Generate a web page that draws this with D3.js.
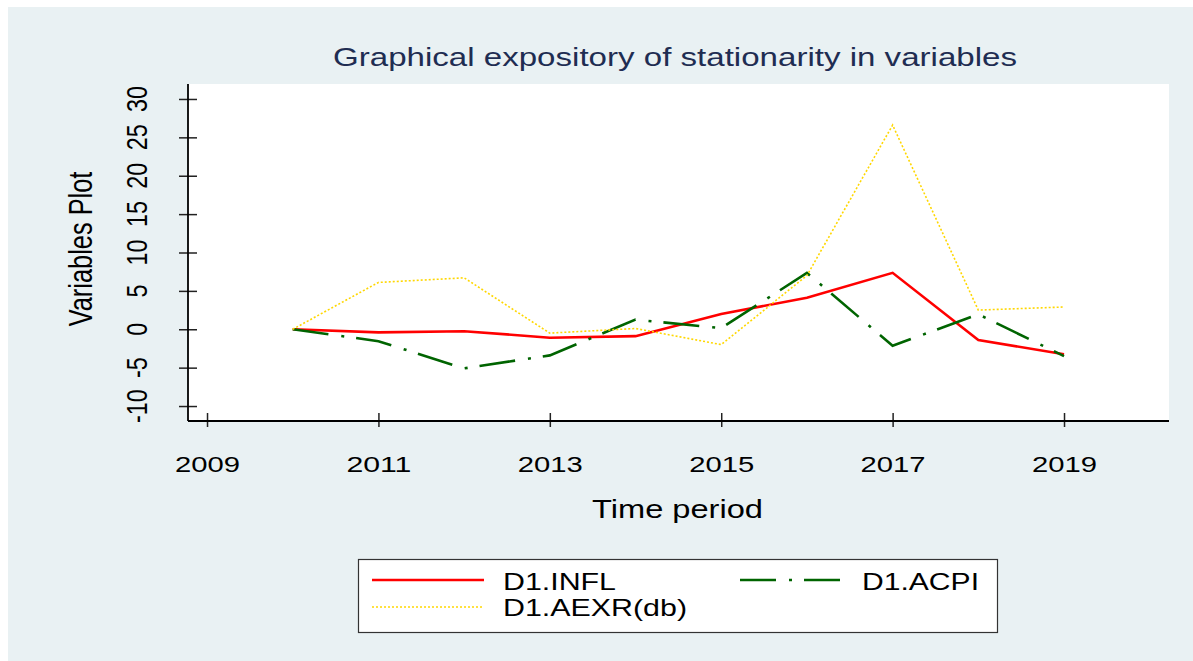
<!DOCTYPE html>
<html>
<head>
<meta charset="utf-8">
<script src="https://cdnjs.cloudflare.com/ajax/libs/d3/7.8.5/d3.min.js"></script>
<style>
  body { margin: 0; background: #fff; }
  text { font-family: "Liberation Sans", Arial, sans-serif; }
</style>
</head>
<body>
<script>
// values
var years = [2010, 2011, 2012, 2013, 2014, 2015, 2016, 2017, 2018, 2019];
var infl = [0, -0.4, -0.25, -1.1, -0.9, 2.0, 4.1, 7.35, -1.4, -3.25];
var acpi = [0, -1.55, -5.1, -3.4, 1.25, 0.15, 7.35, -2.15, 1.95, -3.5];
var aexr = [0, 6.1, 6.7, -0.5, 0.1, -2.0, 7.0, 26.6, 2.5, 2.9];
var xTicks = [2009, 2011, 2013, 2015, 2017, 2019];
var yTicks = [-10, -5, 0, 5, 10, 15, 20, 25, 30];
var seriesNames = ['D1.INFL', 'D1.ACPI', 'D1.AEXR(db)'];

var svg = d3.select('body').append('svg')
    .attr('width', 1193)
    .attr('height', 661);

// Stata style graph region
svg.append('rect').attr('x', 8).attr('y', 7)
    .attr('width', 1185).attr('height', 654)
    .attr('fill', '#e9f1f3');

// note: "top" is taken by window.top, so plot edges get their own names
var plotL = 188, plotR = 1169, plotT = 84, plotB = 421;

svg.append('rect').attr('x', plotL).attr('y', plotT)
    .attr('width', plotR - plotL).attr('height', plotB - plotT)
    .attr('fill', '#fff');

var x = d3.scaleLinear().domain([2008.778, 2020.225]).range([plotL, plotR]);
var y = d3.scaleLinear().domain([-11.95, 31.95]).range([plotB, plotT]);

// title
svg.append('text')
    .attr('x', 333).attr('y', 66)
    .attr('font-size', 26.5)
    .attr('fill', '#1f2d52')
    .attr('textLength', 684).attr('lengthAdjust', 'spacingAndGlyphs')
    .text('Graphical expository of stationarity in variables');

// y axis ticks (crossing the axis line)
var yAxis = svg.append('g')
    .attr('transform', 'translate(197,0)')
    .call(d3.axisLeft(y).tickValues(yTicks).tickSize(18).tickFormat(''));
yAxis.select('.domain').remove();
yAxis.selectAll('line').attr('stroke', '#222').attr('stroke-width', 1.5);

yTicks.forEach(function (t) {
    svg.append('text')
        .attr('transform', 'translate(147,' + y(t) + ') scale(1.3,1) rotate(-90)')
        .attr('text-anchor', 'middle')
        .attr('font-size', 23.4)
        .attr('fill', '#000')
        .text(t);
});

svg.append('text')
    .attr('transform', 'translate(92,249) scale(1.3,1) rotate(-90)')
    .attr('text-anchor', 'middle')
    .attr('font-size', 25.4)
    .text('Variables Plot');

// x axis
var xAxis = svg.append('g')
    .attr('transform', 'translate(0,413)')
    .call(d3.axisBottom(x).tickValues(xTicks).tickSize(14).tickFormat(d3.format('d')));
xAxis.select('.domain').remove();
xAxis.selectAll('line').attr('stroke', '#222').attr('stroke-width', 1.5);
xAxis.selectAll('text')
    .attr('y', 59).attr('dy', 0)
    .attr('font-size', 22)
    .attr('font-family', '"Liberation Sans", Arial, sans-serif')
    .attr('fill', '#000')
    .attr('textLength', 65).attr('lengthAdjust', 'spacingAndGlyphs');

svg.append('text')
    .attr('x', 677.5).attr('y', 518)
    .attr('text-anchor', 'middle')
    .attr('font-size', 25)
    .attr('textLength', 171).attr('lengthAdjust', 'spacingAndGlyphs')
    .text('Time period');

// axis lines
svg.append('line').attr('x1', plotL).attr('x2', plotL).attr('y1', plotT).attr('y2', plotB)
    .attr('stroke', '#000').attr('stroke-width', 1.8);
svg.append('line').attr('x1', plotL).attr('x2', plotR).attr('y1', plotB).attr('y2', plotB)
    .attr('stroke', '#000').attr('stroke-width', 1.8);

// series
var line = d3.line().x(function (d) {
    return x(d[0]);
}).y(function (d) {
    return y(d[1]);
});

var styles = [
    { color: '#ff0000', width: 2.6, dash: null },
    { color: '#006400', width: 2.6, dash: '36,13,3,12' },
    { color: '#ffd700', width: 1.6, dash: '2,2' }
];
var series = [infl, acpi, aexr];

series.forEach(function (vals, i) {
    svg.append('path')
        .attr('d', line(years.map(function (yr, j) { return [yr, vals[j]]; })))
        .attr('fill', 'none')
        .attr('stroke', styles[i].color)
        .attr('stroke-width', styles[i].width)
        .attr('stroke-dasharray', styles[i].dash);
});

// legend
svg.append('rect').attr('x', 358.5).attr('y', 559.5)
    .attr('width', 639).attr('height', 73)
    .attr('fill', '#fff').attr('stroke', '#333').attr('stroke-width', 1.2);

var legendPos = [
    { lx: 372, ly: 580, tx: 503, ty: 590, tw: 113 },
    { lx: 740, ly: 580, tx: 862, ty: 590, tw: 117 },
    { lx: 372, ly: 607, tx: 503, ty: 616, tw: 184 }
];

legendPos.forEach(function (p, i) {
    svg.append('line')
        .attr('x1', p.lx).attr('x2', p.lx + 112)
        .attr('y1', p.ly).attr('y2', p.ly)
        .attr('stroke', styles[i].color)
        .attr('stroke-width', styles[i].width)
        .attr('stroke-dasharray', styles[i].dash);
    svg.append('text')
        .attr('x', p.tx).attr('y', p.ty)
        .attr('font-size', 24)
        .attr('textLength', p.tw).attr('lengthAdjust', 'spacingAndGlyphs')
        .text(seriesNames[i]);
});
</script>
</body>
</html>
